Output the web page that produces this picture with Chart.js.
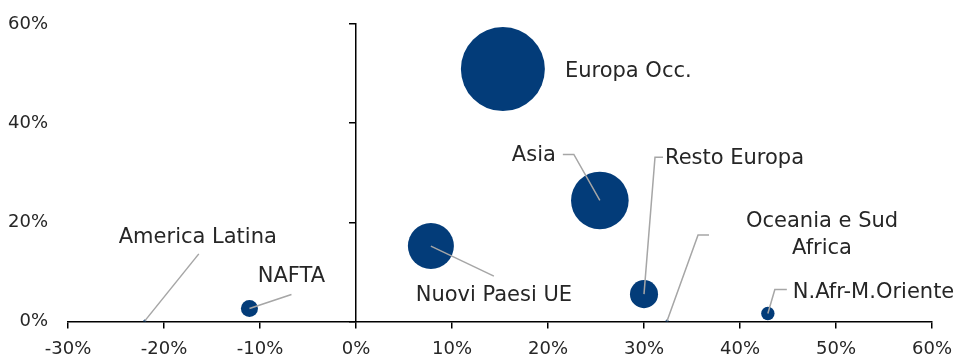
<!DOCTYPE html>
<html>
<head>
<meta charset="utf-8">
<script src="https://cdn.jsdelivr.net/npm/chart.js@4"></script>
<style>
  html, body { margin: 0; padding: 0; background: #fff; }
  .chart-main { width: 956px; height: 358px; position: relative; }
</style>
</head>
<body>
<div class="chart-main">
  <canvas id="myChart"></canvas>
</div>
<script>
// regions, x = growth, y = share, size = bubble weight
const regions = ["Europa Occ.", "Asia", "Resto Europa", "Nuovi Paesi UE", "America Latina", "NAFTA", "Oceania e Sud Africa", "N.Afr-M.Oriente"]
const growth = [15.3, 25.4, 30.0, 7.8, -22.0, -11.1, 32.4, 42.9]
const share = [50.9, 24.4, 5.5, 15.2, 0.1, 2.6, 0.1, 1.6]
const weight = [51, 24, 5.7, 15.3, 0.03, 2.1, 0.03, 1.3]

const xTicks = [-30, -20, -10, 0, 10, 20, 30, 40, 50, 60]
const yTicks = [0, 20, 40, 60]

// label placement relative to the bubble (px) + leader line points
const labelLayout = [
    {dx: 62, dy: 2, align: "left", leader: null},
    {dx: -44, dy: -45, align: "right", leader: [[0, 0], [-26, -46], [-37, -46]]},
    {dx: 21, dy: -136, align: "left", leader: [[0, 0], [11, -137], [19, -137]]},
    {dx: 63, dy: 49, align: "center", leader: [[0, 0], [63, 30]]},
    {dx: 53, dy: -83, align: "center", leader: [[0, 0], [54, -67]]},
    {dx: 42, dy: -32, align: "center", leader: [[0, 0], [42, -14]]},
    {dx: 155, dy: -99, align: "center", lines: ["Oceania e Sud", "Africa"], leader: [[0, 0], [31, -86], [42, -86]]},
    {dx: 25, dy: -21, align: "left", leader: [[0, 0], [7, -24], [19, -24]]},
]

const FONT = "'DejaVu Sans', sans-serif"
const TEXT = "#262626"
const NAVY = "#033C79"

const bubbleData = regions.map((name, i) => ({
    x: growth[i],
    y: share[i],
    r: Math.max(1.5, Math.sqrt(weight[i]) * 5.88)
}))

const labelPlugin = {
    id: "bubbleLabels",
    afterDatasetsDraw(chart) {
        const ctx = chart.ctx
        const meta = chart.getDatasetMeta(0)
        ctx.save()
        meta.data.forEach((pt, i) => {
            const lay = labelLayout[i]
            const px = pt.x, py = pt.y
            if (lay.leader) {
                ctx.beginPath()
                ctx.strokeStyle = "#A6A6A6"
                ctx.lineWidth = 1.5
                lay.leader.forEach((p, k) => {
                    if (k === 0) ctx.moveTo(px + p[0], py + p[1])
                    else ctx.lineTo(px + p[0], py + p[1])
                })
                ctx.stroke()
            }
            ctx.fillStyle = TEXT
            ctx.font = "21px " + FONT
            ctx.textAlign = lay.align
            ctx.textBaseline = "middle"
            const lines = lay.lines || [regions[i]]
            lines.forEach((t, k) => {
                ctx.fillText(t, px + lay.dx, py + lay.dy + k * 27)
            })
        })
        ctx.restore()
    }
}

const chartRef = document.getElementById("myChart").getContext("2d")

new Chart(chartRef, {
    type: "bubble",
    data: {
        datasets: [
            {
                label: "Regioni",
                data: bubbleData,
                backgroundColor: NAVY,
                borderColor: NAVY,
                borderWidth: 0,
                yAxisID: "y"
            }
        ]
    },
    options: {
        responsive: true,
        maintainAspectRatio: false,
        animation: false,
        layout: {autoPadding: false, padding: {left: -4, right: 0, top: 24, bottom: -12}},
        plugins: {
            legend: {display: false},
            tooltip: {enabled: false}
        },
        scales: {
            x: {
                type: "linear",
                min: -30,
                max: 60,
                afterBuildTicks: (s) => { s.ticks = xTicks.map(v => ({value: v})) },
                afterFit: (s) => { s.paddingRight = 24 },
                border: {display: true, color: "#000", width: 1.5},
                grid: {drawOnChartArea: false, drawTicks: true, tickLength: 7, color: "#000", lineWidth: 1.5},
                ticks: {
                    color: TEXT,
                    font: {family: FONT, size: 18},
                    padding: 10,
                    callback: v => v + "%"
                }
            },
            y: {
                type: "linear",
                min: 0,
                max: 60,
                position: {x: 0},
                afterBuildTicks: (s) => { s.ticks = yTicks.map(v => ({value: v})) },
                border: {display: true, color: "#000", width: 1.5},
                grid: {drawOnChartArea: false, drawTicks: true, tickLength: 6, color: "#000", lineWidth: 1.5},
                ticks: {display: false}
            },
            yl: {
                type: "linear",
                axis: "y",
                position: "left",
                min: 0,
                max: 60,
                afterBuildTicks: (s) => { s.ticks = yTicks.map(v => ({value: v})) },
                border: {display: false},
                grid: {display: false},
                ticks: {
                    color: TEXT,
                    font: {family: FONT, size: 18},
                    padding: 12,
                    callback: v => v + "%"
                }
            }
        }
    },
    plugins: [labelPlugin]
})
</script>
</body>
</html>
